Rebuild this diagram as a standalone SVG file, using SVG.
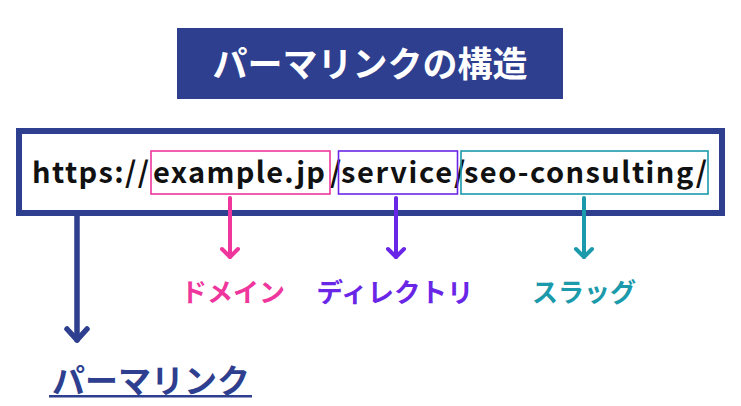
<svg xmlns="http://www.w3.org/2000/svg" width="741" height="406" viewBox="0 0 741 406">
<defs>
<style>
.cjk{font-family:"Noto Sans CJK JP","Noto Sans",sans-serif;font-weight:700}
.url{font-family:"Noto Sans CJK JP","Noto Sans",sans-serif;font-weight:700;font-size:29px;fill:#111}
.seg{fill:none;stroke-width:1.6}
</style>
</defs>
<rect width="741" height="406" fill="#fff"/>
<g id="title">
<rect x="177" y="28" width="386" height="71" fill="#2e3f8f"/>
<text x="370" y="77" class="cjk" font-size="35" fill="#fff" text-anchor="middle">パーマリンクの構造</text>
</g>
<g id="url">
<rect x="19" y="131" width="703" height="82" fill="#fff" stroke="#2e3f8f" stroke-width="6"/>
<text x="32" y="183" class="url" textLength="117" lengthAdjust="spacing">https://</text>
<text x="153" y="183" class="url" textLength="172" lengthAdjust="spacing">example.jp</text>
<text x="330" y="183" class="url">/</text>
<text x="341" y="183" class="url" textLength="111" lengthAdjust="spacing">service</text>
<text x="454" y="183" class="url">/</text>
<text x="464" y="183" class="url" textLength="243" lengthAdjust="spacing">seo-consulting/</text>
</g>
<g id="domain-box"><rect x="151" y="151" width="179" height="43" class="seg" stroke="#ee369c"/></g>
<g id="directory-box"><rect x="338.5" y="151" width="119" height="43" class="seg" stroke="#6a26e6"/></g>
<g id="slug-box"><rect x="461" y="151" width="247" height="43" class="seg" stroke="#1b9aab"/></g>
<g id="connectors" fill="none" stroke-linecap="round" stroke-linejoin="round">
<g stroke="#ee369c" stroke-width="4"><path d="M230 198 V257"/><path d="M222 249 L230 257 L238 249"/></g>
<g stroke="#6a26e6" stroke-width="4"><path d="M396 198 V257"/><path d="M388 249 L396 257 L404 249"/></g>
<g stroke="#1b9aab" stroke-width="4"><path d="M584 198 V257"/><path d="M576 249 L584 257 L592 249"/></g>
<g stroke="#2e3f8f" stroke-width="5.5"><path d="M77 214 V340"/><path d="M67 329 L77 340 L87 329"/></g>
</g>
<g id="domain-label"><text x="233" y="302" class="cjk" font-size="26" fill="#ee369c" text-anchor="middle">ドメイン</text></g>
<g id="directory-label"><text x="395" y="302" class="cjk" font-size="26.5" fill="#6a26e6" text-anchor="middle">ディレクトリ</text></g>
<g id="slug-label"><text x="584" y="302" class="cjk" font-size="26" fill="#1b9aab" text-anchor="middle">スラッグ</text></g>
<g id="permalink-label">
<text x="151" y="393" class="cjk" font-size="33" fill="#2e3f8f" text-anchor="middle">パーマリンク</text>
<rect x="49" y="395" width="203" height="2.5" fill="#2e3f8f"/>
</g>
</svg>
